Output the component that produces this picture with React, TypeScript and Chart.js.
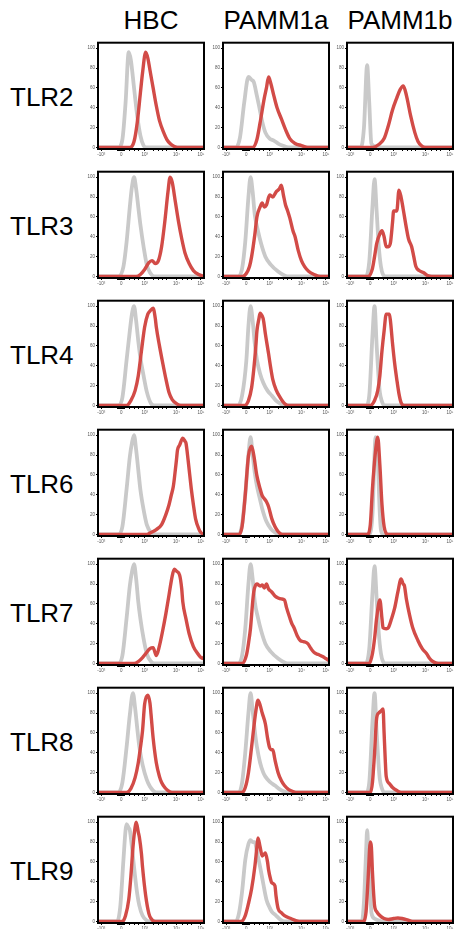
import React, { useEffect, useRef } from 'react';
import { Chart, registerables } from 'chart.js';
Chart.register(...registerables);

type Pt = [number, number];

const columns = ['HBC', 'PAMM1a', 'PAMM1b'];
const rows = ['TLR2', 'TLR3', 'TLR4', 'TLR6', 'TLR7', 'TLR8', 'TLR9'];
const yTicks = [0, 20, 40, 60, 80, 100];
const xTickPos = [3, 22, 44, 74, 97];
const xTickLabels = ['-10³', '0', '10³', '10⁴', '10⁵'];
const xMinorPos = [18, 19, 20, 21, 23, 24, 25, 30, 34, 38, 52, 57, 61, 65, 80, 84, 88];

// TLR2
const tlr2HbcIso: Pt[] = [[0,0],[19,0],[23,8],[26,45],[29,96],[31,88],[34,60],[37,32],[40,12],[43,2],[46,0],[100,0]];
const tlr2HbcStain: Pt[] = [[0,0],[30,0],[34,6],[37,25],[40,55],[42,75],[45,96],[47,90],[49,78],[52,60],[55,42],[58,27],[62,15],[65,8],[68,4],[72,1],[75,0],[100,0]];
const tlr2Pamm1aIso: Pt[] = [[0,0],[12,0],[16,10],[20,45],[24,71],[27,68],[29,66],[32,52],[34,42],[37,26],[40,15],[44,9],[48,7],[52,4],[56,2],[62,0],[100,0]];
const tlr2Pamm1aStain: Pt[] = [[0,0],[28,0],[32,8],[35,25],[39,50],[41,60],[43,71],[45,65],[48,52],[51,40],[55,29],[59,18],[63,9],[68,4],[74,2],[80,0],[100,0]];
const tlr2Pamm1bIso: Pt[] = [[0,0],[13,0],[16,20],[19,83],[21,45],[23,4],[27,1],[32,0],[100,0]];
const tlr2Pamm1bStain: Pt[] = [[0,0],[24,0],[30,3],[35,9],[39,22],[43,38],[47,50],[50,58],[53,62],[55,57],[57,48],[60,32],[64,15],[67,6],[70,2],[74,0],[100,0]];
// TLR3
const tlr3HbcIso: Pt[] = [[0,0],[19,0],[24,10],[27,35],[30,70],[32,90],[34,100],[36,88],[38,70],[40,52],[43,30],[46,12],[49,4],[53,0],[100,0]];
const tlr3HbcStain: Pt[] = [[0,0],[36,0],[40,2],[44,7],[48,14],[51,16],[54,13],[57,16],[60,30],[63,55],[66,85],[68,100],[70,95],[73,75],[76,55],[79,38],[82,24],[86,13],[90,6],[95,2],[100,0]];
const tlr3Pamm1aIso: Pt[] = [[0,0],[14,0],[18,8],[21,35],[24,80],[26,100],[28,85],[30,62],[33,46],[36,33],[40,20],[45,12],[52,5],[58,1],[62,0],[100,0]];
const tlr3Pamm1aStain: Pt[] = [[0,0],[18,0],[22,3],[25,10],[27,20],[30,42],[32,60],[35,70],[37,74],[39,70],[41,72],[44,82],[47,80],[50,85],[53,88],[55,92],[57,82],[59,72],[61,66],[63,59],[66,46],[68,40],[71,26],[74,16],[77,10],[81,5],[86,2],[92,0],[100,0]];
const tlr3Pamm1bIso: Pt[] = [[0,0],[17,0],[21,15],[24,70],[26,98],[28,65],[30,30],[32,10],[34,2],[37,0],[100,0]];
const tlr3Pamm1bStain: Pt[] = [[0,0],[20,0],[24,8],[26,20],[28,33],[31,43],[33,46],[35,40],[37,30],[39,30],[41,34],[43,55],[44,66],[47,66],[49,87],[51,80],[53,68],[56,49],[58,38],[61,30],[63,20],[65,10],[68,6],[72,4],[76,1],[80,0],[100,0]];
// TLR4
const tlr4HbcIso: Pt[] = [[0,0],[19,0],[23,8],[27,46],[30,75],[32,92],[34,100],[36,85],[38,65],[40,48],[43,30],[46,14],[50,2],[53,0],[100,0]];
const tlr4HbcStain: Pt[] = [[0,0],[27,0],[31,5],[35,15],[38,30],[41,55],[44,79],[47,92],[49,95],[52,98],[54,88],[55,79],[58,60],[61,43],[64,27],[67,13],[70,6],[74,2],[78,0],[100,0]];
const tlr4Pamm1aIso: Pt[] = [[0,0],[14,0],[18,10],[22,45],[24,80],[26,100],[28,85],[30,62],[32,46],[35,32],[38,23],[42,15],[46,10],[50,5],[54,2],[58,0],[100,0]];
const tlr4Pamm1aStain: Pt[] = [[0,0],[20,0],[24,5],[27,18],[29,36],[31,60],[32,75],[34,88],[35,93],[37,90],[38,87],[40,72],[43,52],[45,38],[47,26],[50,16],[54,8],[58,2],[62,0],[100,0]];
const tlr4Pamm1bIso: Pt[] = [[0,0],[18,0],[21,10],[24,70],[26,100],[28,60],[30,25],[31,13],[33,4],[35,0],[100,0]];
const tlr4Pamm1bStain: Pt[] = [[0,0],[22,0],[26,5],[29,15],[31,30],[33,55],[35,75],[37,92],[40,92],[41,85],[43,62],[45,42],[47,26],[49,12],[51,3],[54,0],[100,0]];
// TLR6
const tlr6HbcIso: Pt[] = [[0,0],[19,0],[23,8],[27,46],[30,78],[32,92],[34,100],[36,85],[38,65],[40,45],[43,25],[46,10],[50,2],[53,0],[100,0]];
const tlr6HbcStain: Pt[] = [[0,0],[46,0],[50,2],[55,5],[60,10],[64,20],[67,30],[69,39],[71,48],[72,56],[74,75],[75,85],[77,90],[80,97],[82,94],[83,92],[85,75],[88,46],[90,30],[92,16],[95,6],[97,2],[100,0]];
const tlr6Pamm1aIso: Pt[] = [[0,0],[15,0],[18,10],[21,40],[24,80],[26,98],[28,80],[30,62],[32,49],[35,35],[37,26],[41,13],[45,6],[49,2],[53,0],[100,0]];
const tlr6Pamm1aStain: Pt[] = [[0,0],[15,0],[18,8],[21,40],[24,79],[27,89],[29,80],[32,59],[35,46],[37,39],[39,36],[41,33],[43,28],[46,16],[49,8],[52,3],[56,0],[100,0]];
const tlr6Pamm1bIso: Pt[] = [[0,0],[21,0],[24,20],[27,98],[29,75],[31,20],[32,5],[34,0],[100,0]];
const tlr6Pamm1bStain: Pt[] = [[0,0],[19,0],[22,10],[24,46],[27,85],[29,98],[31,70],[33,30],[35,8],[37,1],[39,0],[100,0]];
// TLR7
const tlr7HbcIso: Pt[] = [[0,0],[19,0],[23,8],[27,46],[30,78],[32,92],[34,100],[36,85],[38,62],[40,45],[43,25],[46,10],[50,2],[53,0],[100,0]];
const tlr7HbcStain: Pt[] = [[0,0],[34,0],[38,2],[42,6],[45,10],[49,15],[52,16],[55,8],[58,18],[61,33],[64,50],[67,69],[70,88],[72,95],[74,93],[77,89],[79,75],[80,62],[83,45],[86,30],[90,17],[94,10],[97,6],[99,5],[100,7]];
const tlr7Pamm1aIso: Pt[] = [[0,0],[14,0],[18,8],[21,35],[24,80],[26,100],[28,85],[30,62],[33,46],[36,33],[40,20],[45,12],[52,5],[58,1],[62,0],[100,0]];
const tlr7Pamm1aStain: Pt[] = [[0,0],[18,0],[22,8],[24,20],[26,36],[28,62],[29,72],[32,80],[35,78],[37,79],[39,76],[41,80],[43,75],[46,72],[49,68],[52,66],[55,65],[58,64],[60,56],[63,46],[65,40],[67,36],[70,28],[73,23],[76,22],[80,20],[83,15],[86,11],[90,9],[94,7],[97,5],[100,3]];
const tlr7Pamm1bIso: Pt[] = [[0,0],[17,0],[21,15],[24,70],[26,98],[28,65],[30,30],[32,10],[34,2],[37,0],[100,0]];
const tlr7Pamm1bStain: Pt[] = [[0,0],[21,0],[24,10],[26,25],[28,46],[31,64],[33,45],[34,36],[37,35],[39,36],[42,45],[45,56],[48,72],[51,85],[53,80],[54,79],[56,65],[59,49],[62,36],[67,23],[71,15],[75,10],[78,5],[81,2],[86,0],[100,0]];
// TLR8
const tlr8HbcIso: Pt[] = [[0,0],[19,0],[23,10],[27,46],[30,78],[33,100],[35,85],[37,65],[39,46],[42,28],[46,13],[49,6],[52,2],[55,0],[100,0]];
const tlr8HbcStain: Pt[] = [[0,0],[27,0],[31,4],[35,15],[38,30],[40,45],[42,62],[44,89],[47,98],[49,90],[50,79],[52,55],[55,30],[58,16],[60,10],[63,5],[66,2],[70,0],[100,0]];
const tlr8Pamm1aIso: Pt[] = [[0,0],[15,0],[18,10],[21,40],[24,80],[26,100],[28,82],[30,62],[32,46],[35,30],[38,20],[40,16],[44,11],[49,7],[54,3],[58,1],[62,0],[100,0]];
const tlr8Pamm1aStain: Pt[] = [[0,0],[18,0],[21,5],[24,20],[27,46],[29,65],[31,82],[33,93],[35,88],[37,80],[40,69],[42,55],[44,45],[46,43],[47,43],[49,33],[52,20],[55,12],[58,7],[62,3],[66,1],[70,0],[100,0]];
const tlr8Pamm1bIso: Pt[] = [[0,0],[18,0],[21,10],[24,70],[26,100],[28,60],[30,25],[31,13],[33,4],[35,0],[100,0]];
const tlr8Pamm1bStain: Pt[] = [[0,0],[22,0],[24,10],[26,40],[28,75],[30,80],[32,82],[34,84],[35,60],[36,35],[37,16],[40,9],[43,5],[47,2],[51,0],[100,0]];
// TLR9
const tlr9HbcIso: Pt[] = [[0,0],[18,0],[21,15],[24,62],[26,92],[27,98],[29,94],[30,92],[32,75],[35,45],[37,28],[39,16],[42,6],[46,1],[49,0],[100,0]];
const tlr9HbcStain: Pt[] = [[0,0],[23,0],[26,6],[29,22],[31,45],[33,75],[35,95],[36,100],[38,90],[39,85],[41,68],[42,55],[45,26],[48,8],[50,3],[54,0],[100,0]];
const tlr9Pamm1aIso: Pt[] = [[0,0],[12,0],[15,8],[18,30],[21,62],[24,78],[26,82],[28,80],[30,80],[32,70],[35,55],[38,38],[41,22],[44,14],[46,10],[50,6],[54,2],[58,0],[100,0]];
const tlr9Pamm1aStain: Pt[] = [[0,0],[17,0],[21,6],[24,18],[27,33],[30,55],[32,75],[33,84],[35,75],[37,66],[39,68],[40,69],[42,60],[43,52],[45,42],[46,39],[49,36],[50,26],[52,13],[55,9],[58,6],[64,3],[72,0],[100,0]];
const tlr9Pamm1bIso: Pt[] = [[0,0],[14,0],[16,20],[18,70],[19,92],[20,75],[22,30],[23,9],[26,3],[30,1],[34,0],[100,0]];
const tlr9Pamm1bStain: Pt[] = [[0,0],[15,0],[18,10],[20,45],[22,80],[23,75],[24,50],[26,16],[28,10],[31,6],[35,3],[39,2],[44,3],[48,3.5],[52,3],[56,2],[62,0],[100,0]];

const panelData: [Pt[], Pt[]][][] = [
  [[tlr2HbcIso, tlr2HbcStain], [tlr2Pamm1aIso, tlr2Pamm1aStain], [tlr2Pamm1bIso, tlr2Pamm1bStain]],
  [[tlr3HbcIso, tlr3HbcStain], [tlr3Pamm1aIso, tlr3Pamm1aStain], [tlr3Pamm1bIso, tlr3Pamm1bStain]],
  [[tlr4HbcIso, tlr4HbcStain], [tlr4Pamm1aIso, tlr4Pamm1aStain], [tlr4Pamm1bIso, tlr4Pamm1bStain]],
  [[tlr6HbcIso, tlr6HbcStain], [tlr6Pamm1aIso, tlr6Pamm1aStain], [tlr6Pamm1bIso, tlr6Pamm1bStain]],
  [[tlr7HbcIso, tlr7HbcStain], [tlr7Pamm1aIso, tlr7Pamm1aStain], [tlr7Pamm1bIso, tlr7Pamm1bStain]],
  [[tlr8HbcIso, tlr8HbcStain], [tlr8Pamm1aIso, tlr8Pamm1aStain], [tlr8Pamm1bIso, tlr8Pamm1bStain]],
  [[tlr9HbcIso, tlr9HbcStain], [tlr9Pamm1aIso, tlr9Pamm1aStain], [tlr9Pamm1bIso, tlr9Pamm1bStain]],
];

const RED = '#d24b47';
const GRAY = '#c9c9c9';
const COL_LEFT = [98, 223, 347];
const ROW_TOP = [42, 171, 300, 429, 558, 687, 816];
const PLOT_W = 106;
const PLOT_H = 107;
const Y_AXIS_W = 19;
const X_AXIS_H = 15;
const PAD_TOP = 3;
const PAD_RIGHT = 3;
const CW = Y_AXIS_W + PLOT_W + PAD_RIGHT;
const CH = PAD_TOP + PLOT_H + X_AXIS_H;
const FONT = 'Arial, "Liberation Sans", Helvetica, sans-serif';

const framePlugin = {
  id: 'frame',
  afterDatasetsDraw(chart: any) {
    const { ctx, chartArea } = chart;
    ctx.save();
    ctx.strokeStyle = '#000';
    ctx.lineWidth = 2;
    ctx.strokeRect(chartArea.left, chartArea.top, chartArea.right - chartArea.left, chartArea.bottom - chartArea.top);
    ctx.restore();
  },
};

function Panel({ iso, stain, left, top }: { iso: Pt[]; stain: Pt[]; left: number; top: number }) {
  const ref = useRef<HTMLCanvasElement>(null);
  useEffect(() => {
    const chart = new Chart(ref.current as HTMLCanvasElement, {
      type: 'line',
      data: {
        datasets: [
          {
            data: stain.map(([x, y]) => ({ x, y })),
            borderColor: RED,
            borderWidth: 3.4,
            pointRadius: 0,
            cubicInterpolationMode: 'monotone',
            borderJoinStyle: 'round',
            fill: false,
          },
          {
            data: iso.map(([x, y]) => ({ x, y })),
            borderColor: GRAY,
            borderWidth: 3.8,
            pointRadius: 0,
            cubicInterpolationMode: 'monotone',
            borderJoinStyle: 'round',
            fill: false,
          },
        ],
      },
      options: {
        responsive: false,
        animation: false,
        events: [],
        layout: { padding: { top: PAD_TOP, right: PAD_RIGHT, left: 0, bottom: 0 } },
        plugins: { legend: { display: false }, tooltip: { enabled: false } },
        scales: {
          x: {
            type: 'linear',
            min: 0,
            max: 100,
            afterBuildTicks: (s: any) => {
              s.ticks = [...xTickPos, ...xMinorPos].sort((a, b) => a - b).map((v) => ({ value: v }));
            },
            afterFit: (s: any) => {
              s.height = X_AXIS_H;
            },
            ticks: {
              autoSkip: false,
              maxRotation: 0,
              minRotation: 0,
              padding: 1,
              color: '#555',
              font: { size: 4.5, family: FONT },
              callback: (v: any) => {
                const i = xTickPos.indexOf(Number(v));
                return i >= 0 ? xTickLabels[i] : '';
              },
            },
            grid: { drawOnChartArea: false, drawTicks: true, tickLength: 2, color: '#000', lineWidth: 1 },
            border: { display: false },
          },
          y: {
            type: 'linear',
            min: -1.5,
            max: 105.5,
            afterBuildTicks: (s: any) => {
              s.ticks = yTicks.map((v) => ({ value: v }));
            },
            afterFit: (s: any) => {
              s.width = Y_AXIS_W;
            },
            ticks: { padding: 1, color: '#555', font: { size: 4.5, family: FONT } },
            grid: { drawOnChartArea: false, drawTicks: true, tickLength: 2, color: '#000', lineWidth: 1 },
            border: { display: false },
          },
        },
      },
      plugins: [framePlugin],
    } as any);
    return () => chart.destroy();
  }, [iso, stain]);
  return (
    <canvas
      ref={ref}
      width={CW}
      height={CH}
      style={{ position: 'absolute', left: left - Y_AXIS_W, top: top - PAD_TOP, width: CW, height: CH }}
    />
  );
}

export default function App() {
  return (
    <div
      style={{
        position: 'absolute',
        left: 0,
        top: 0,
        width: 454,
        height: 929,
        overflow: 'hidden',
        background: '#fff',
        fontFamily: FONT,
      }}
    >
      {columns.map((c, ci) => (
        <div
          key={c}
          style={{
            position: 'absolute',
            left: COL_LEFT[ci] - 30,
            width: PLOT_W + 60,
            top: 6.5,
            textAlign: 'center',
            fontSize: 26,
            lineHeight: '26px',
            color: '#000',
          }}
        >
          {c}
        </div>
      ))}
      {rows.map((r, ri) => (
        <div
          key={r}
          style={{
            position: 'absolute',
            left: 10,
            top: ROW_TOP[ri] + 42,
            fontSize: 26,
            lineHeight: '26px',
            color: '#000',
          }}
        >
          {r}
        </div>
      ))}
      {rows.map((r, ri) =>
        columns.map((c, ci) => (
          <Panel
            key={r + c}
            iso={panelData[ri][ci][0]}
            stain={panelData[ri][ci][1]}
            left={COL_LEFT[ci]}
            top={ROW_TOP[ri]}
          />
        ))
      )}
    </div>
  );
}
